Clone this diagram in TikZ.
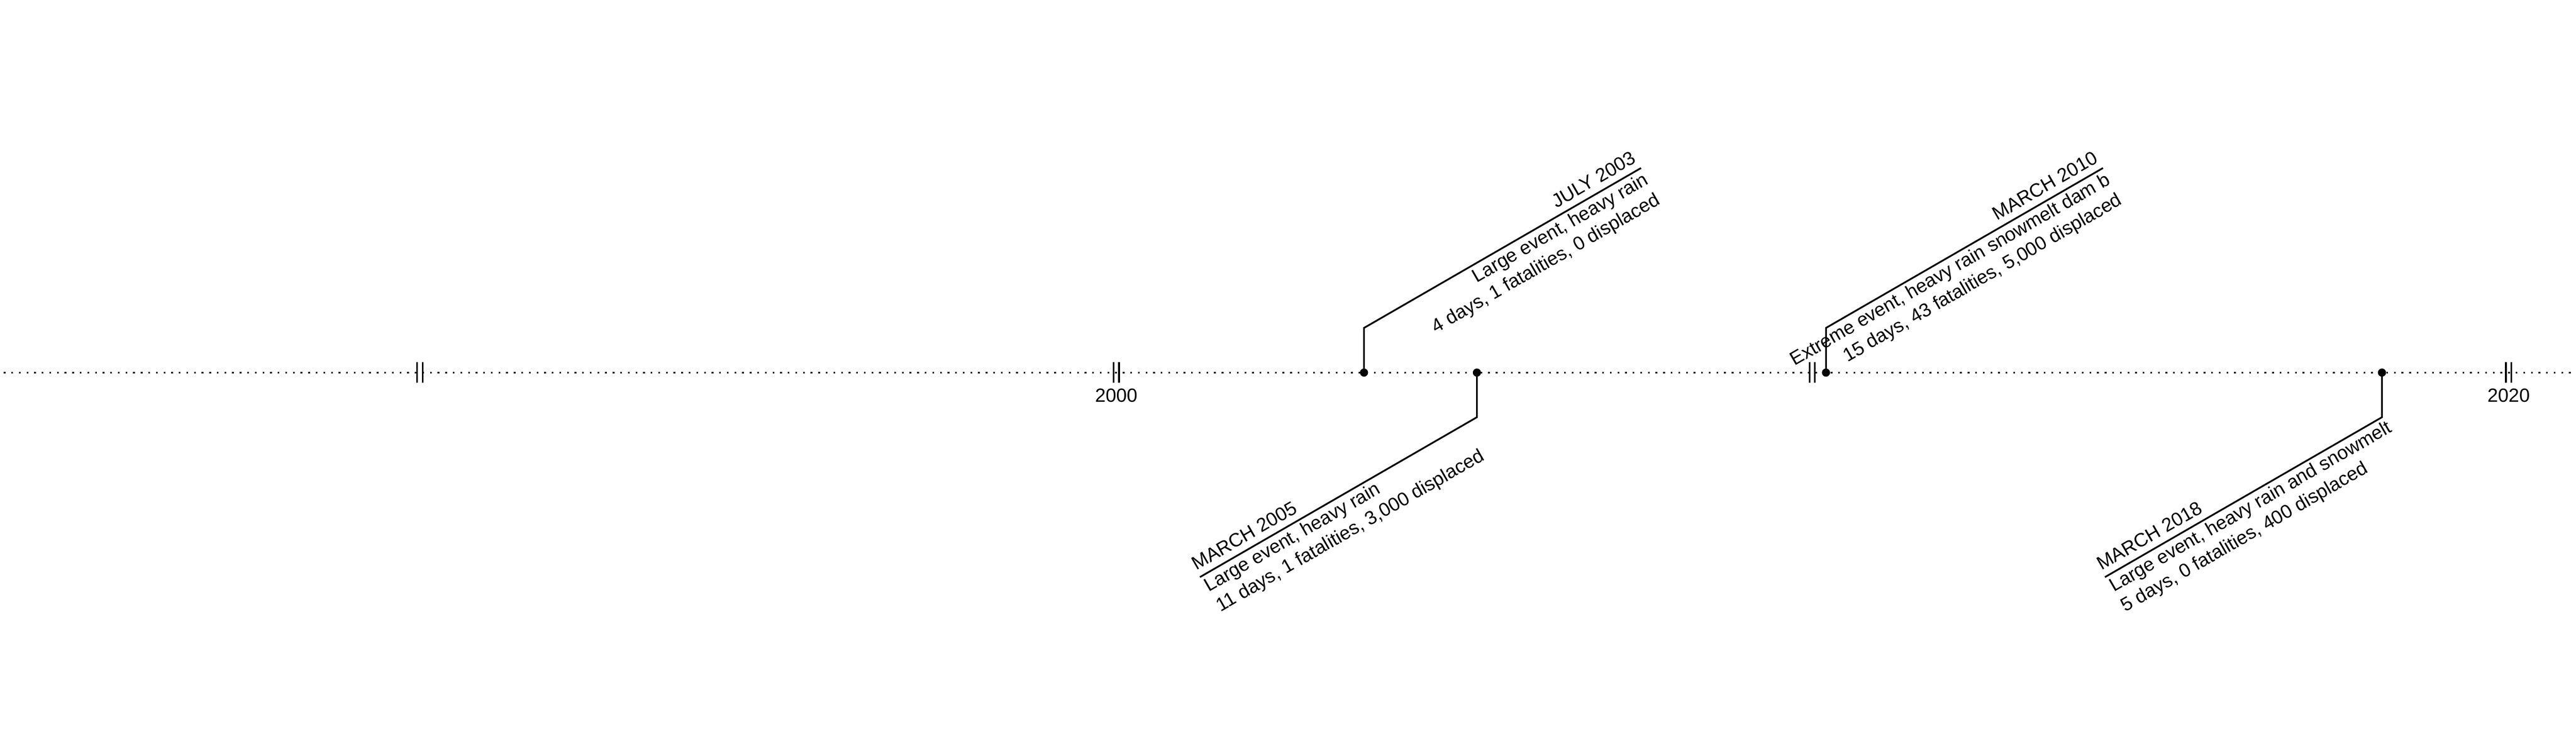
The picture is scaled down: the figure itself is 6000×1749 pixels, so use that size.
\documentclass[tikz,border=0pt]{standalone}
\usepackage{fontspec}
\setmainfont{Liberation Sans}
\usetikzlibrary{calc}
\begin{document}
\begin{tikzpicture}[x=0.25pt,y=0.25pt,
  txt/.style={font=\fontsize{11.1}{13.3}\selectfont, inner sep=0pt},
  lbl/.style={txt, rotate=30},
  conn/.style={line width=1pt},
  evdot/.style={circle, fill=black, inner sep=0pt, minimum size=4.75pt},
  brk/.style={line width=1pt},
  axisline/.style={line width=1pt, dash pattern=on 1pt off 3.4325pt, dash phase=2.26pt}]
\useasboundingbox (0,0) rectangle (6000,1749);
% axis
\coordinate (axL) at (0,881);
\coordinate (axR) at (6000,881);
\draw[axisline] (axL) -- (axR);
% axis breaks
\foreach \cx in {978,2600,4221,5843}{
  \draw[brk] (\cx-6.3,857) -- (\cx-6.3,905);
  \draw[brk] (\cx+6.3,857) -- (\cx+6.3,905);
}
\node[txt, anchor=base] (y2000) at (2600,812) {2000};
\node[txt, anchor=base] (y2020) at (5843,812) {2020};
% event 1 : July 2003 (top)
\node[evdot] (d1) at (3177,881) {};
\coordinate (c1) at (3177,985);
\coordinate (e1) at ($(c1)+(30:745)$);
\draw[conn] (d1.center) -- (c1) -- (e1);
\node[lbl, anchor=base east] (t1) at ($(e1)+(120:17)$) {JULY 2003};
\node[lbl, anchor=base east] (a1) at ($(e1)+(-60:41)$) {Large event, heavy rain};
\node[lbl, anchor=base east] (b1) at ($(e1)+(-60:95)$) {4 days, 1 fatalities, 0 displaced};
% event 2 : March 2005 (bottom)
\node[evdot] (d2) at (3440,881) {};
\coordinate (c2) at (3440,777);
\coordinate (s2) at ($(c2)+(210:745)$);
\draw[conn] (d2.center) -- (c2) -- (s2);
\node[lbl, anchor=base west] (t2) at ($(s2)+(120:17)$) {MARCH 2005};
\node[lbl, anchor=base west] (a2) at ($(s2)+(-60:41)$) {Large event, heavy rain};
\node[lbl, anchor=base west] (b2) at ($(s2)+(-60:95)$) {11 days, 1 fatalities, 3,000 displaced};
% event 3 : March 2010 (top)
\node[evdot] (d3) at (4253,881) {};
\coordinate (c3) at (4253,985);
\coordinate (e3) at ($(c3)+(30:745)$);
\draw[conn] (d3.center) -- (c3) -- (e3);
\node[lbl, anchor=base east] (t3) at ($(e3)+(120:17)$) {MARCH 2010};
\node[lbl, anchor=base east] (a3) at ($(e3)+(-60:41)$) {Extreme event, heavy rain snowmelt dam b};
\node[lbl, anchor=base east] (b3) at ($(e3)+(-60:95)$) {15 days, 43 fatalities, 5,000 displaced};
% event 4 : March 2018 (bottom)
\node[evdot] (d4) at (5548,881) {};
\coordinate (c4) at (5548,777);
\coordinate (s4) at ($(c4)+(210:745)$);
\draw[conn] (d4.center) -- (c4) -- (s4);
\node[lbl, anchor=base west] (t4) at ($(s4)+(120:17)$) {MARCH 2018};
\node[lbl, anchor=base west] (a4) at ($(s4)+(-60:41)$) {Large event, heavy rain and snowmelt};
\node[lbl, anchor=base west] (b4) at ($(s4)+(-60:95)$) {5 days, 0 fatalities, 400 displaced};
\end{tikzpicture}
\end{document}
